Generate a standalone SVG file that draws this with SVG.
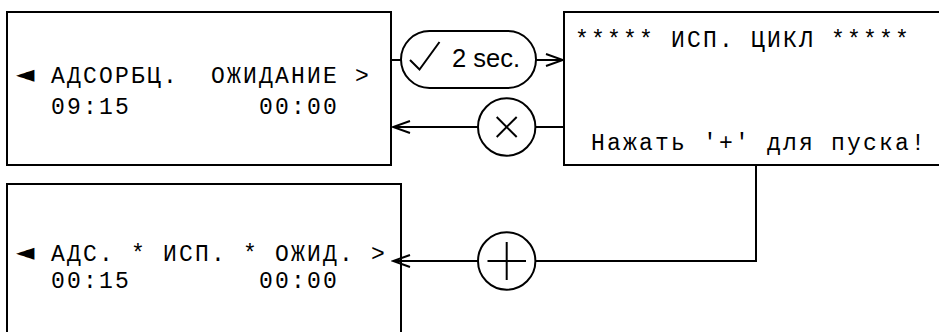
<svg xmlns="http://www.w3.org/2000/svg" width="939" height="332" viewBox="0 0 939 332">
<style>
.box{fill:#fff;stroke:#000;stroke-width:2}
.ln{fill:none;stroke:#000;stroke-width:2}
.mono{font-family:"Liberation Mono","Courier New",monospace;font-size:23px;letter-spacing:2.2px;fill:#000}
.tri{font-family:"DejaVu Sans",sans-serif;font-size:24px;fill:#000}
.lbl{font-family:"Liberation Sans",Arial,sans-serif;font-size:25.5px;fill:#000}
</style>
<defs>
<marker id="arr" markerUnits="userSpaceOnUse" markerWidth="20" markerHeight="16" refX="18" refY="7" orient="auto">
<polyline points="1,1 18,7 1,13" fill="none" stroke="#000" stroke-width="2"/>
</marker>
</defs>
<g id="screen-adsorb">
<rect class="box" x="7" y="12" width="384" height="153"/>
<text class="tri" x="16" y="82">◄</text>
<text class="mono" x="51" y="83" xml:space="preserve">АДСОРБЦ.  ОЖИДАНИЕ &gt;</text>
<text class="mono" x="51" y="114" xml:space="preserve">09:15        00:00</text>
</g>
<g id="screen-test">
<rect class="box" x="564" y="12" width="385" height="153"/>
<text class="mono" x="575" y="47" xml:space="preserve">***** ИСП. ЦИКЛ *****</text>
<text class="mono" x="591" y="150" xml:space="preserve">Нажать '+' для пуска!</text>
</g>
<g id="screen-running">
<rect class="box" x="7" y="184" width="394" height="160"/>
<text class="tri" x="16" y="260">◄</text>
<text class="mono" x="51" y="261" xml:space="preserve">АДС. * ИСП. * ОЖИД. &gt;</text>
<text class="mono" x="51" y="288" xml:space="preserve">00:15        00:00</text>
</g>
<g id="connectors">
<line class="ln" x1="391" y1="60" x2="401" y2="60"/>
<line class="ln" x1="536" y1="60" x2="563" y2="60" marker-end="url(#arr)"/>
<line class="ln" x1="564" y1="127" x2="535.5" y2="127"/>
<line class="ln" x1="478" y1="127" x2="393" y2="127" marker-end="url(#arr)"/>
<polyline class="ln" points="756,165 756,261 535.5,261"/>
<line class="ln" x1="478" y1="261" x2="393" y2="261" marker-end="url(#arr)"/>
</g>
<g id="cond-2sec">
<rect class="ln" x="401" y="31" width="135" height="57" rx="28.5"/>
<polyline class="ln" points="410,60 419.5,69.5 439.5,42"/>
<text class="lbl" x="452" y="67">2 sec.</text>
</g>
<g id="cond-cancel">
<circle class="ln" cx="506.7" cy="127" r="28.7"/>
<line class="ln" x1="496.7" y1="117" x2="516.7" y2="137"/>
<line class="ln" x1="516.7" y1="117" x2="496.7" y2="137"/>
</g>
<g id="cond-plus">
<circle class="ln" cx="506.7" cy="261" r="28.7"/>
<line class="ln" x1="487.5" y1="261" x2="526" y2="261"/>
<line class="ln" x1="506.7" y1="242" x2="506.7" y2="280"/>
</g>
</svg>
